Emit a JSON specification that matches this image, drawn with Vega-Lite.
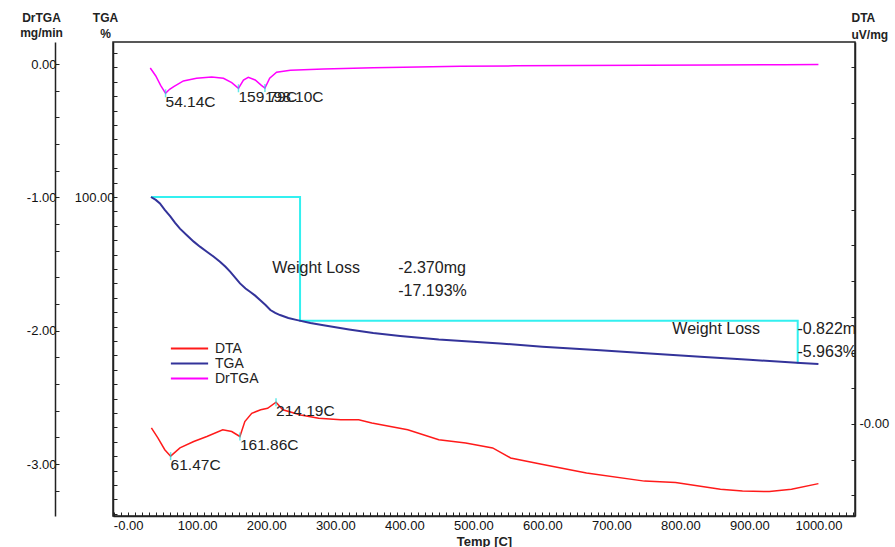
{
  "$schema": "https://vega.github.io/schema/vega-lite/v6.json",
  "width": 742,
  "height": 474,
  "autosize": {"type": "none"},
  "padding": {"left": 113, "top": 42, "right": 40, "bottom": 31},
  "config": {
    "view": {"stroke": "#222", "strokeWidth": 1.5},
    "font": "Liberation Sans",
    "axis": {
      "grid": false,
      "domainColor": "#222",
      "domainWidth": 1.5,
      "tickColor": "#222",
      "tickWidth": 1,
      "labelColor": "#111",
      "titleColor": "#222",
      "labelFont": "Liberation Sans",
      "titleFont": "Liberation Sans",
      "labelFontSize": 13,
      "titleFontSize": 13,
      "titleFontWeight": "bold",
      "labelOverlap": false,
      "labelBound": false
    },
    "legend": {"padding": 0}
  },
  "datasets": {
    "drtga": [
      {"T": 32, "v": -0.03}, {"T": 40, "v": -0.09}, {"T": 47, "v": -0.16}, {"T": 54.14, "v": -0.22},
      {"T": 60, "v": -0.19}, {"T": 66, "v": -0.17}, {"T": 80, "v": -0.127}, {"T": 99, "v": -0.107},
      {"T": 121, "v": -0.097}, {"T": 138, "v": -0.107}, {"T": 150, "v": -0.14}, {"T": 159.79, "v": -0.182},
      {"T": 167, "v": -0.12}, {"T": 174, "v": -0.1}, {"T": 184, "v": -0.12}, {"T": 193, "v": -0.16},
      {"T": 198.1, "v": -0.18}, {"T": 205, "v": -0.107}, {"T": 215, "v": -0.062}, {"T": 235, "v": -0.047},
      {"T": 283, "v": -0.037}, {"T": 355, "v": -0.028}, {"T": 420, "v": -0.022}, {"T": 481, "v": -0.017},
      {"T": 560, "v": -0.014}, {"T": 650, "v": -0.012}, {"T": 750, "v": -0.01}, {"T": 850, "v": -0.008},
      {"T": 950, "v": -0.005}, {"T": 1000, "v": -0.004}
    ],
    "drtga_peaks": [
      {"T": 54.14, "v": -0.22, "label": "54.14C"},
      {"T": 159.79, "v": -0.182, "label": "159.79C"},
      {"T": 198.1, "v": -0.18, "label": "198.10C"}
    ],
    "tga": [
      {"T": 33, "v": 100}, {"T": 40, "v": 99.6}, {"T": 46, "v": 99.1}, {"T": 53, "v": 98.2},
      {"T": 61, "v": 97.3}, {"T": 68, "v": 96.4}, {"T": 75, "v": 95.6}, {"T": 85, "v": 94.7},
      {"T": 95, "v": 93.8}, {"T": 104, "v": 93.1}, {"T": 114, "v": 92.4}, {"T": 124, "v": 91.7},
      {"T": 133, "v": 91.0}, {"T": 141, "v": 90.3}, {"T": 148, "v": 89.6}, {"T": 155, "v": 88.8},
      {"T": 162, "v": 88.0}, {"T": 170, "v": 87.3}, {"T": 177, "v": 86.8}, {"T": 184, "v": 86.3},
      {"T": 191, "v": 85.7}, {"T": 199, "v": 85.0}, {"T": 206, "v": 84.3}, {"T": 213, "v": 83.9},
      {"T": 220, "v": 83.6}, {"T": 232, "v": 83.2}, {"T": 245, "v": 82.9}, {"T": 264, "v": 82.5},
      {"T": 283, "v": 82.2}, {"T": 320, "v": 81.6}, {"T": 355, "v": 81.1}, {"T": 394, "v": 80.7},
      {"T": 450, "v": 80.2}, {"T": 500, "v": 79.9}, {"T": 539, "v": 79.65}, {"T": 600, "v": 79.2},
      {"T": 684, "v": 78.7}, {"T": 750, "v": 78.3}, {"T": 829, "v": 77.8}, {"T": 900, "v": 77.4},
      {"T": 974, "v": 76.95}, {"T": 1000, "v": 76.8}
    ],
    "steps": [
      {"o": 1, "T": 33, "v": 100}, {"o": 2, "T": 249, "v": 100}, {"o": 3, "T": 249, "v": 82.81},
      {"o": 4, "T": 970, "v": 82.81}, {"o": 5, "T": 970, "v": 76.84}
    ],
    "wl_text": [
      {"T": 208.7, "v": 90.14, "label": "Weight Loss"},
      {"T": 391.3, "v": 90.14, "label": "-2.370mg"},
      {"T": 391.3, "v": 86.94, "label": "-17.193%"},
      {"T": 788.4, "v": 81.67, "label": "Weight Loss"},
      {"T": 969.6, "v": 81.67, "label": "-0.822mg"},
      {"T": 969.6, "v": 78.47, "label": "-5.963%"}
    ],
    "dta": [
      {"T": 33.6, "v": -0.11}, {"T": 43, "v": -0.39}, {"T": 53, "v": -0.72}, {"T": 61.47, "v": -0.9},
      {"T": 75, "v": -0.67}, {"T": 95, "v": -0.49}, {"T": 114, "v": -0.35}, {"T": 137, "v": -0.16},
      {"T": 150, "v": -0.21}, {"T": 161.86, "v": -0.35}, {"T": 169, "v": 0.07}, {"T": 179, "v": 0.3},
      {"T": 192, "v": 0.4}, {"T": 202, "v": 0.44}, {"T": 214.19, "v": 0.61}, {"T": 224, "v": 0.4},
      {"T": 250, "v": 0.25}, {"T": 276, "v": 0.16}, {"T": 308, "v": 0.12}, {"T": 334, "v": 0.12},
      {"T": 353, "v": 0.03}, {"T": 405, "v": -0.16}, {"T": 450, "v": -0.44}, {"T": 489, "v": -0.53},
      {"T": 528, "v": -0.67}, {"T": 554, "v": -0.95}, {"T": 599, "v": -1.13}, {"T": 664, "v": -1.37},
      {"T": 748, "v": -1.6}, {"T": 793, "v": -1.64}, {"T": 858, "v": -1.83}, {"T": 890, "v": -1.88},
      {"T": 929, "v": -1.89}, {"T": 961, "v": -1.83}, {"T": 1000, "v": -1.67}
    ],
    "dta_peaks": [
      {"T": 61.47, "v": -0.9, "label": "61.47C"},
      {"T": 161.86, "v": -0.35, "label": "161.86C"},
      {"T": 214.19, "v": 0.61, "label": "214.19C"}
    ]
  },
  "layer": [
    {
      "layer": [
        {
          "data": {"name": "drtga"},
          "mark": {"type": "line", "strokeWidth": 1.5, "clip": true},
          "encoding": {
            "x": {
              "field": "T", "type": "quantitative",
              "scale": {"domain": [-22, 1053], "nice": false, "zero": false},
              "axis": {
                "title": "Temp [C]",
                "titleY": 25,
                "titleBaseline": "middle",
                "titleFontSize": 13,
                "tickCount": 1000,
                "values": [-20,-10,0,10,20,30,40,50,60,70,80,90,100,110,120,130,140,150,160,170,180,190,200,210,220,230,240,250,260,270,280,290,300,310,320,330,340,350,360,370,380,390,400,410,420,430,440,450,460,470,480,490,500,510,520,530,540,550,560,570,580,590,600,610,620,630,640,650,660,670,680,690,700,710,720,730,740,750,760,770,780,790,800,810,820,830,840,850,860,870,880,890,900,910,920,930,940,950,960,970,980,990,1000,1010,1020,1030,1040,1050],
                "labelExpr": "datum.value % 100 === 0 ? (datum.value === 0 ? '-0.00' : format(datum.value, '.2f')) : ''",
                "labelOverlap": false,
                "tickSize": -4,
                "labelPadding": 7
              }
            },
            "y": {
              "field": "v", "type": "quantitative",
              "scale": {"domain": [-3.39, 0.165], "nice": false, "zero": false},
              "axis": {
                "orient": "left",
                "offset": 58,
                "title": ["DrTGA", "mg/min"],
                "titleAngle": 0,
                "titleAlign": "center",
                "titleBaseline": "alphabetic",
                "titleX": -14,
                "titleY": -21,
                "titleLineHeight": 15,
                "titleFontSize": 12,
                "tickCount": 1000,
                "values": [-3.2,-3,-2.8,-2.6,-2.4,-2.2,-2,-1.8,-1.6,-1.4,-1.2,-1,-0.8,-0.6,-0.4,-0.2,0],
                "labelExpr": "abs(datum.value - round(datum.value)) < 0.001 ? (datum.value < -0.001 ? '-' : '') + format(abs(datum.value), '.2f') : ''",
                "labelOverlap": false,
                "tickSize": -4,
                "labelPadding": 3
              }
            },
            "color": {
              "datum": "DrTGA", "type": "nominal",
              "scale": {"domain": ["DTA", "TGA", "DrTGA"], "range": ["#ff1a1a", "#33339a", "#ff00ff"]},
              "legend": {
                "orient": "none",
                "legendX": 69,
                "legendY": 299,
                "title": null,
                "symbolType": "M-3,0H3",
                "symbolSize": 154,
                "symbolStrokeWidth": 2,
                "labelOffset": 18,
                "labelFontSize": 14,
                "labelColor": "#222",
                "labelFont": "Liberation Sans",
                "rowPadding": -1
              }
            }
          }
        },
        {
          "data": {"name": "drtga_peaks"},
          "mark": {"type": "tick", "orient": "vertical", "size": 8, "thickness": 1.5, "color": "#20e0e0"},
          "encoding": {
            "x": {"field": "T", "type": "quantitative"},
            "y": {"field": "v", "type": "quantitative"}
          }
        },
        {
          "data": {"name": "drtga_peaks"},
          "mark": {"type": "text", "align": "left", "baseline": "top", "dy": 2, "fontSize": 15.5, "color": "#222", "font": "Liberation Sans"},
          "encoding": {
            "x": {"field": "T", "type": "quantitative"},
            "y": {"field": "v", "type": "quantitative"},
            "text": {"field": "label"}
          }
        }
      ]
    },
    {
      "layer": [
        {
          "data": {"name": "steps"},
          "mark": {"type": "line", "strokeWidth": 2, "color": "#33f0f0", "clip": true},
          "encoding": {
            "x": {"field": "T", "type": "quantitative"},
            "y": {
              "field": "v", "type": "quantitative",
              "scale": {"domain": [55.69, 121.53], "nice": false, "zero": false},
              "axis": {
                "orient": "left",
                "title": ["TGA", "%"],
                "titleAngle": 0,
                "titleAlign": "center",
                "titleBaseline": "alphabetic",
                "titleX": -8,
                "titleY": -21,
                "titleLineHeight": 16,
                "titleFontSize": 12,
                "tickCount": 1000,
                "values": [56,58,60,62,64,66,68,70,72,74,76,78,80,82,84,86,88,90,92,94,96,98,100,102,104,106,108,110,112,114,116,118,120],
                "labelExpr": "datum.value === 100 ? '100.00' : ''",
                "labelOverlap": false,
                "tickSize": -4,
                "labelPadding": 3
              }
            },
            "order": {"field": "o", "type": "quantitative"}
          }
        },
        {
          "data": {"name": "tga"},
          "mark": {"type": "line", "strokeWidth": 2, "clip": true},
          "encoding": {
            "x": {"field": "T", "type": "quantitative"},
            "y": {"field": "v", "type": "quantitative"},
            "color": {"datum": "TGA", "type": "nominal"}
          }
        },
        {
          "data": {"name": "wl_text"},
          "mark": {"type": "text", "align": "left", "baseline": "middle", "fontSize": 16, "color": "#222", "font": "Liberation Sans", "clip": true},
          "encoding": {
            "x": {"field": "T", "type": "quantitative"},
            "y": {"field": "v", "type": "quantitative"},
            "text": {"field": "label"}
          }
        }
      ]
    },
    {
      "layer": [
        {
          "data": {"name": "dta"},
          "mark": {"type": "line", "strokeWidth": 1.5, "clip": true},
          "encoding": {
            "x": {"field": "T", "type": "quantitative"},
            "y": {
              "field": "v", "type": "quantitative",
              "scale": {"domain": [-2.577, 10.7], "nice": false, "zero": false},
              "axis": {
                "orient": "right",
                "title": ["DTA", "uV/mg"],
                "titleAngle": 0,
                "titleAlign": "left",
                "titleBaseline": "alphabetic",
                "titleX": -4,
                "titleY": -21,
                "titleLineHeight": 17,
                "titleFontSize": 12,
                "tickCount": 1000,
                "values": [-2,-1,0,1,2,3,4,5,6,7,8,9,10],
                "labelExpr": "datum.value === 0 ? '-0.00' : ''",
                "labelOverlap": false,
                "tickSize": -4,
                "labelPadding": 8
              }
            },
            "color": {"datum": "DTA", "type": "nominal"}
          }
        },
        {
          "data": {"name": "dta_peaks"},
          "mark": {"type": "tick", "orient": "vertical", "size": 8, "thickness": 1.5, "color": "#20e0e0"},
          "encoding": {
            "x": {"field": "T", "type": "quantitative"},
            "y": {"field": "v", "type": "quantitative"}
          }
        },
        {
          "data": {"name": "dta_peaks"},
          "mark": {"type": "text", "align": "left", "baseline": "top", "dy": 2, "fontSize": 15.5, "color": "#222", "font": "Liberation Sans"},
          "encoding": {
            "x": {"field": "T", "type": "quantitative"},
            "y": {"field": "v", "type": "quantitative"},
            "text": {"field": "label"}
          }
        }
      ]
    }
  ],
  "resolve": {"scale": {"y": "independent"}}
}
